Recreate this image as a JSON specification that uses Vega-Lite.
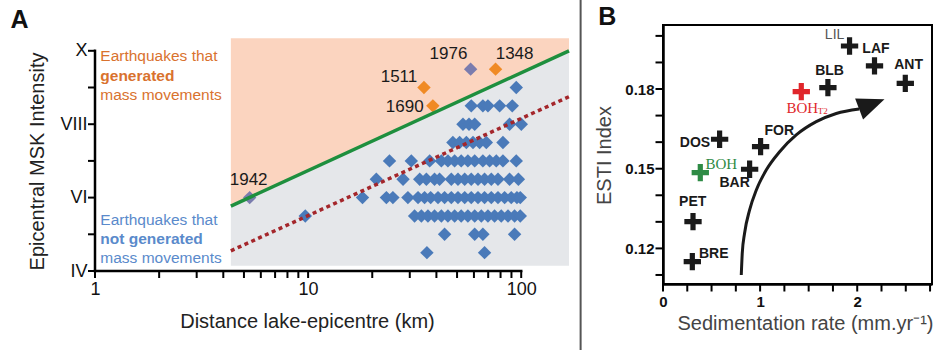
{
  "$schema": "https://vega.github.io/schema/vega-lite/v6.json",
  "autosize": {"type": "none"},
  "padding": {"left": 95, "top": 25, "right": 845, "bottom": 325},
  "background": "white",
  "bounds": "flush",
  "spacing": 94,
  "resolve": {"scale": {"color": "independent"}},
  "config": {
    "font": "Liberation Sans",
    "view": {"stroke": null},
    "axis": {"grid": false, "domain": false, "labelColor": "#111", "titleColor": "#222", "titleFontWeight": "normal", "labelOverlap": false, "labelBound": false, "labelFlush": false}
  },
  "datasets": {
    "bands": [{"d": 4.34, "top": 10.34, "g": 5.77, "bot": 4.14}, {"d": 167.6, "top": 10.34, "g": 10.0, "bot": 4.14}],
    "green": [{"d": 4.34, "g": 5.77}, {"d": 167.6, "g": 10.0}],
    "red": [{"d": 4.34, "r": 4.55}, {"d": 167.6, "r": 8.75}],
    "axesA": [{"d": 1, "d2": 100, "i": 4, "i2": 4}, {"d": 1, "d2": 1, "i": 4, "i2": 10}],
    "tAx": [{"d": 1, "i": 4}, {"d": 2, "i": 4}, {"d": 3, "i": 4}, {"d": 4, "i": 4}, {"d": 5, "i": 4}, {"d": 6, "i": 4}, {"d": 7, "i": 4}, {"d": 8, "i": 4}, {"d": 9, "i": 4}, {"d": 10, "i": 4}, {"d": 20, "i": 4}, {"d": 30, "i": 4}, {"d": 40, "i": 4}, {"d": 50, "i": 4}, {"d": 60, "i": 4}, {"d": 70, "i": 4}, {"d": 80, "i": 4}, {"d": 90, "i": 4}, {"d": 100, "i": 4}],
    "tAy": [{"d": 1, "i": 4}, {"d": 1, "i": 5}, {"d": 1, "i": 6}, {"d": 1, "i": 7}, {"d": 1, "i": 8}, {"d": 1, "i": 9}, {"d": 1, "i": 10}],
    "sep": [{"d": 190, "i": 1.8, "i2": 11.5}],
    "quakes": [
      {"d": 94.8, "i": 9.0, "t": "no"},
      {"d": 58.3, "i": 8.5, "t": "no"}, {"d": 66.1, "i": 8.5, "t": "no"}, {"d": 69.8, "i": 8.5, "t": "no"}, {"d": 79.2, "i": 8.5, "t": "no"}, {"d": 90.8, "i": 8.5, "t": "no"},
      {"d": 53.3, "i": 8.0, "t": "no"}, {"d": 56.9, "i": 8.0, "t": "no"}, {"d": 60.5, "i": 8.0, "t": "no"}, {"d": 88.2, "i": 8.0, "t": "no"}, {"d": 100.1, "i": 8.0, "t": "no"},
      {"d": 47.8, "i": 7.5, "t": "no"}, {"d": 51.4, "i": 7.5, "t": "no"}, {"d": 55.3, "i": 7.5, "t": "no"}, {"d": 59.4, "i": 7.5, "t": "no"}, {"d": 63.8, "i": 7.5, "t": "no"}, {"d": 68.6, "i": 7.5, "t": "no"}, {"d": 82.1, "i": 7.5, "t": "no"},
      {"d": 24.1, "i": 7.0, "t": "no"}, {"d": 30.5, "i": 7.0, "t": "no"}, {"d": 37.2, "i": 7.0, "t": "no"}, {"d": 42.2, "i": 7.0, "t": "no"}, {"d": 45.3, "i": 7.0, "t": "no"}, {"d": 48.7, "i": 7.0, "t": "no"}, {"d": 52.3, "i": 7.0, "t": "no"}, {"d": 56.2, "i": 7.0, "t": "no"}, {"d": 60.5, "i": 7.0, "t": "no"}, {"d": 66.1, "i": 7.0, "t": "no"}, {"d": 71.1, "i": 7.0, "t": "no"}, {"d": 76.4, "i": 7.0, "t": "no"}, {"d": 82.1, "i": 7.0, "t": "no"}, {"d": 94.8, "i": 7.0, "t": "no"},
      {"d": 20.9, "i": 6.5, "t": "no"}, {"d": 27.9, "i": 6.5, "t": "no"}, {"d": 33.4, "i": 6.5, "t": "no"}, {"d": 35.9, "i": 6.5, "t": "no"}, {"d": 39.2, "i": 6.5, "t": "no"}, {"d": 41.4, "i": 6.5, "t": "no"}, {"d": 47.0, "i": 6.5, "t": "no"}, {"d": 50.5, "i": 6.5, "t": "no"}, {"d": 54.3, "i": 6.5, "t": "no"}, {"d": 58.3, "i": 6.5, "t": "no"}, {"d": 62.7, "i": 6.5, "t": "no"}, {"d": 67.3, "i": 6.5, "t": "no"}, {"d": 72.4, "i": 6.5, "t": "no"}, {"d": 77.8, "i": 6.5, "t": "no"}, {"d": 88.2, "i": 6.5, "t": "no"}, {"d": 97.0, "i": 6.5, "t": "no"},
      {"d": 18.0, "i": 6.0, "t": "no"}, {"d": 23.3, "i": 6.0, "t": "no"}, {"d": 25.0, "i": 6.0, "t": "no"}, {"d": 29.4, "i": 6.0, "t": "no"}, {"d": 32.8, "i": 6.0, "t": "no"}, {"d": 35.2, "i": 6.0, "t": "no"}, {"d": 37.6, "i": 6.0, "t": "no"}, {"d": 40.7, "i": 6.0, "t": "no"}, {"d": 43.7, "i": 6.0, "t": "no"}, {"d": 47.0, "i": 6.0, "t": "no"}, {"d": 50.5, "i": 6.0, "t": "no"}, {"d": 54.3, "i": 6.0, "t": "no"}, {"d": 58.3, "i": 6.0, "t": "no"}, {"d": 62.7, "i": 6.0, "t": "no"}, {"d": 67.3, "i": 6.0, "t": "no"}, {"d": 72.4, "i": 6.0, "t": "no"}, {"d": 77.8, "i": 6.0, "t": "no"}, {"d": 83.6, "i": 6.0, "t": "no"}, {"d": 89.8, "i": 6.0, "t": "no"}, {"d": 95.5, "i": 6.0, "t": "no"}, {"d": 99.0, "i": 6.0, "t": "no"},
      {"d": 9.7, "i": 5.5, "t": "no"}, {"d": 31.6, "i": 5.5, "t": "no"}, {"d": 34.0, "i": 5.5, "t": "no"}, {"d": 36.5, "i": 5.5, "t": "no"}, {"d": 39.2, "i": 5.5, "t": "no"}, {"d": 42.2, "i": 5.5, "t": "no"}, {"d": 45.3, "i": 5.5, "t": "no"}, {"d": 48.7, "i": 5.5, "t": "no"}, {"d": 52.3, "i": 5.5, "t": "no"}, {"d": 56.2, "i": 5.5, "t": "no"}, {"d": 60.5, "i": 5.5, "t": "no"}, {"d": 65.0, "i": 5.5, "t": "no"}, {"d": 69.8, "i": 5.5, "t": "no"}, {"d": 75.0, "i": 5.5, "t": "no"}, {"d": 80.6, "i": 5.5, "t": "no"}, {"d": 86.7, "i": 5.5, "t": "no"}, {"d": 93.1, "i": 5.5, "t": "no"}, {"d": 99.0, "i": 5.5, "t": "no"},
      {"d": 43.7, "i": 5.0, "t": "no"}, {"d": 60.5, "i": 5.0, "t": "no"}, {"d": 66.1, "i": 5.0, "t": "no"}, {"d": 93.1, "i": 5.0, "t": "no"},
      {"d": 36.1, "i": 4.5, "t": "no"}, {"d": 67.3, "i": 4.5, "t": "no"},
      {"d": 5.32, "i": 6.0, "t": "edge"}, {"d": 57.9, "i": 9.5, "t": "edge"},
      {"d": 34.97, "i": 9.0, "t": "yes"}, {"d": 38.5, "i": 8.5, "t": "yes"}, {"d": 75.8, "i": 9.5, "t": "yes"}
    ],
    "years": [
      {"d": 5.26, "i": 6.47, "label": "1942"},
      {"d": 26.7, "i": 9.29, "label": "1511"},
      {"d": 28.4, "i": 8.46, "label": "1690"},
      {"d": 45.6, "i": 9.9, "label": "1976"},
      {"d": 93.1, "i": 9.9, "label": "1348"}
    ],
    "legGenN": [{"d": 1.059, "i": 9.87, "label": "Earthquakes that"}, {"d": 1.059, "i": 8.8, "label": "mass movements"}],
    "legGenB": [{"d": 1.059, "i": 9.32, "label": "generated"}],
    "legNotN": [{"d": 1.059, "i": 5.39, "label": "Earthquakes that"}, {"d": 1.059, "i": 4.35, "label": "mass movements"}],
    "legNotB": [{"d": 1.059, "i": 4.86, "label": "not generated"}],
    "letterA": [{"d": 0.443, "i": 10.61, "label": "A"}],
    "tBx": [{"rate": 0, "esti": 0.1066}, {"rate": 0.25, "esti": 0.1066}, {"rate": 0.5, "esti": 0.1066}, {"rate": 0.75, "esti": 0.1066}, {"rate": 1, "esti": 0.1066}, {"rate": 1.25, "esti": 0.1066}, {"rate": 1.5, "esti": 0.1066}, {"rate": 1.75, "esti": 0.1066}, {"rate": 2, "esti": 0.1066}, {"rate": 2.25, "esti": 0.1066}, {"rate": 2.5, "esti": 0.1066}, {"rate": 2.75, "esti": 0.1066}],
    "tBy": [{"rate": 0, "esti": 0.11}, {"rate": 0, "esti": 0.12}, {"rate": 0, "esti": 0.13}, {"rate": 0, "esti": 0.14}, {"rate": 0, "esti": 0.15}, {"rate": 0, "esti": 0.16}, {"rate": 0, "esti": 0.17}, {"rate": 0, "esti": 0.18}, {"rate": 0, "esti": 0.19}, {"rate": 0, "esti": 0.2}],
    "sites": [
      {"site": "LIL", "rate": 1.921, "esti": 0.1962, "grp": "other"},
      {"site": "LAF", "rate": 2.178, "esti": 0.1887, "grp": "other"},
      {"site": "ANT", "rate": 2.495, "esti": 0.1821, "grp": "other"},
      {"site": "BLB", "rate": 1.698, "esti": 0.1805, "grp": "other"},
      {"site": "BOH T2", "rate": 1.424, "esti": 0.179, "grp": "boht2"},
      {"site": "FOR", "rate": 1.005, "esti": 0.1583, "grp": "other"},
      {"site": "DOS", "rate": 0.583, "esti": 0.1611, "grp": "other"},
      {"site": "BOH", "rate": 0.384, "esti": 0.1485, "grp": "boh"},
      {"site": "BAR", "rate": 0.892, "esti": 0.1498, "grp": "other"},
      {"site": "PET", "rate": 0.309, "esti": 0.1301, "grp": "other"},
      {"site": "BRE", "rate": 0.302, "esti": 0.115, "grp": "other"}
    ],
    "siteLabels": [
      {"rate": 2.193, "esti": 0.195, "label": "LAF"},
      {"rate": 2.529, "esti": 0.1892, "label": "ANT"},
      {"rate": 1.715, "esti": 0.1867, "label": "BLB"},
      {"rate": 1.198, "esti": 0.1642, "label": "FOR"},
      {"rate": 0.329, "esti": 0.1597, "label": "DOS"},
      {"rate": 0.738, "esti": 0.1448, "label": "BAR"},
      {"rate": 0.306, "esti": 0.1373, "label": "PET"},
      {"rate": 0.522, "esti": 0.1179, "label": "BRE"}
    ],
    "lil": [{"rate": 1.767, "esti": 0.2003, "label": "LIL"}],
    "bohG": [{"rate": 0.601, "esti": 0.1518, "label": "BOH"}],
    "bohR": [{"rate": 1.434, "esti": 0.1729, "label": "BOH"}],
    "t2": [{"rate": 1.646, "esti": 0.1718, "label": "T2"}],
    "arrow": [
      {"rate": 0.806, "esti": 0.11},
      {"rate": 0.816, "esti": 0.1181},
      {"rate": 0.84, "esti": 0.1257},
      {"rate": 0.892, "esti": 0.1345},
      {"rate": 0.961, "esti": 0.142},
      {"rate": 1.063, "esti": 0.1495},
      {"rate": 1.201, "esti": 0.1564},
      {"rate": 1.372, "esti": 0.1627},
      {"rate": 1.578, "esti": 0.1677},
      {"rate": 1.784, "esti": 0.1708},
      {"rate": 2.02, "esti": 0.1725}
    ],
    "head": [{"rate": 2.15, "esti": 0.1743}],
    "letterB": [{"rate": -0.574, "esti": 0.2041, "label": "B"}]
  },
  "hconcat": [
    {
      "width": 474,
      "height": 246,
      "layer": [
        {
          "data": {"name": "bands"},
          "mark": {"type": "area", "color": "#FBD4BF", "opacity": 1},
          "encoding": {
            "x": {"field": "d", "type": "quantitative", "scale": {"type": "log", "domain": [1, 167.6], "nice": false},
              "axis": {"title": "Distance lake-epicentre (km)", "values": [1, 10, 100], "format": "d",
                "labelOverlap": false, "ticks": false, "tickSize": 0,
                "labelFontSize": 18, "labelPadding": 9,
                "titleFontSize": 20, "titleX": 212, "titleY": 56, "titleBaseline": "alphabetic"}},
            "y": {"field": "top", "type": "quantitative", "scale": {"domain": [4, 10.703], "nice": false, "zero": false},
              "axis": {"title": "Epicentral MSK Intensity", "values": [4, 6, 8, 10],
                "labelExpr": "datum.value == 10 ? 'X' : datum.value == 8 ? 'VIII' : datum.value == 6 ? 'VI' : 'IV'",
                "labelOverlap": false, "ticks": false, "tickSize": 0,
                "labelFontSize": 18, "labelPadding": 8,
                "titleFontSize": 20, "titleX": -52, "titleY": 136, "titleBaseline": "alphabetic"}},
            "y2": {"field": "g"}
          }
        },
        {
          "data": {"name": "bands"},
          "mark": {"type": "area", "color": "#E5E7EA", "opacity": 1},
          "encoding": {
            "x": {"field": "d", "type": "quantitative"},
            "y": {"field": "g", "type": "quantitative"},
            "y2": {"field": "bot"}
          }
        },
        {
          "data": {"name": "quakes"},
          "mark": {"type": "point", "shape": "diamond", "filled": true, "size": 180, "opacity": 1},
          "encoding": {
            "x": {"field": "d", "type": "quantitative"},
            "y": {"field": "i", "type": "quantitative"},
            "color": {"field": "t", "type": "nominal", "scale": {"domain": ["no", "edge", "yes"], "range": ["#4A7AB9", "#7A7CAE", "#F08A24"]}, "legend": null}
          }
        },
        {
          "data": {"name": "green"},
          "mark": {"type": "line", "color": "#1E8F3E", "strokeWidth": 3.5},
          "encoding": {
            "x": {"field": "d", "type": "quantitative"},
            "y": {"field": "g", "type": "quantitative"}
          }
        },
        {
          "data": {"name": "red"},
          "mark": {"type": "line", "color": "#A4262B", "strokeWidth": 3.5, "strokeDash": [4, 3.5]},
          "encoding": {
            "x": {"field": "d", "type": "quantitative"},
            "y": {"field": "r", "type": "quantitative"}
          }
        },
        {
          "data": {"name": "axesA"},
          "mark": {"type": "rule", "color": "black", "strokeWidth": 2.5, "strokeCap": "square"},
          "encoding": {
            "x": {"field": "d", "type": "quantitative"},
            "x2": {"field": "d2"},
            "y": {"field": "i", "type": "quantitative"},
            "y2": {"field": "i2"}
          }
        },
        {
          "data": {"name": "tAx"},
          "mark": {"type": "tick", "orient": "vertical", "size": 7, "thickness": 2, "color": "black", "opacity": 1, "yOffset": 3.5},
          "encoding": {
            "x": {"field": "d", "type": "quantitative"},
            "y": {"field": "i", "type": "quantitative"}
          }
        },
        {
          "data": {"name": "tAy"},
          "mark": {"type": "tick", "orient": "horizontal", "size": 7, "thickness": 2, "color": "black", "opacity": 1, "xOffset": -3.5},
          "encoding": {
            "x": {"field": "d", "type": "quantitative"},
            "y": {"field": "i", "type": "quantitative"}
          }
        },
        {
          "data": {"name": "sep"},
          "mark": {"type": "rule", "color": "#555", "strokeWidth": 2},
          "encoding": {
            "x": {"field": "d", "type": "quantitative"},
            "y": {"field": "i", "type": "quantitative"},
            "y2": {"field": "i2"}
          }
        },
        {
          "data": {"name": "years"},
          "mark": {"type": "text", "fontSize": 17, "color": "#1a1a1a", "align": "center", "baseline": "middle", "font": "Liberation Sans"},
          "encoding": {
            "x": {"field": "d", "type": "quantitative"},
            "y": {"field": "i", "type": "quantitative"},
            "text": {"field": "label"}
          }
        },
        {
          "data": {"name": "legGenN"},
          "mark": {"type": "text", "fontSize": 15.5, "color": "#D9722E", "align": "left", "baseline": "middle", "font": "Liberation Sans"},
          "encoding": {
            "x": {"field": "d", "type": "quantitative"},
            "y": {"field": "i", "type": "quantitative"},
            "text": {"field": "label"}
          }
        },
        {
          "data": {"name": "legGenB"},
          "mark": {"type": "text", "fontSize": 15.5, "fontWeight": "bold", "color": "#D9722E", "align": "left", "baseline": "middle", "font": "Liberation Sans"},
          "encoding": {
            "x": {"field": "d", "type": "quantitative"},
            "y": {"field": "i", "type": "quantitative"},
            "text": {"field": "label"}
          }
        },
        {
          "data": {"name": "legNotN"},
          "mark": {"type": "text", "fontSize": 15.5, "color": "#5A8ACB", "align": "left", "baseline": "middle", "font": "Liberation Sans"},
          "encoding": {
            "x": {"field": "d", "type": "quantitative"},
            "y": {"field": "i", "type": "quantitative"},
            "text": {"field": "label"}
          }
        },
        {
          "data": {"name": "legNotB"},
          "mark": {"type": "text", "fontSize": 15.5, "fontWeight": "bold", "color": "#5A8ACB", "align": "left", "baseline": "middle", "font": "Liberation Sans"},
          "encoding": {
            "x": {"field": "d", "type": "quantitative"},
            "y": {"field": "i", "type": "quantitative"},
            "text": {"field": "label"}
          }
        },
        {
          "data": {"name": "letterA"},
          "mark": {"type": "text", "fontSize": 25, "fontWeight": "bold", "color": "#111", "align": "center", "baseline": "alphabetic", "font": "Liberation Sans"},
          "encoding": {
            "x": {"field": "d", "type": "quantitative"},
            "y": {"field": "i", "type": "quantitative"},
            "text": {"field": "label"}
          }
        }
      ]
    },
    {
      "width": 269,
      "height": 259,
      "view": {"stroke": "black", "strokeWidth": 2},
      "layer": [
        {
          "data": {"name": "arrow"},
          "mark": {"type": "line", "color": "#1a1a1a", "strokeWidth": 3, "interpolate": "monotone"},
          "encoding": {
            "x": {"field": "rate", "type": "quantitative", "scale": {"domain": [0, 2.77], "nice": false, "zero": false},
              "axis": {"title": "Sedimentation rate (mm.yr⁻¹)", "values": [0, 1, 2], "format": "d",
                "labelOverlap": false, "ticks": false, "tickSize": 0,
                "domain": true, "domainColor": "black", "domainWidth": 2.5,
                "labelFont": "Liberation Sans Narrow, Liberation Sans, sans-serif", "labelFontWeight": "bold", "labelFontSize": 15, "labelPadding": 10,
                "titleFontSize": 20, "titleColor": "#444", "titleX": 142, "titleY": 45, "titleBaseline": "alphabetic"}},
            "y": {"field": "esti", "type": "quantitative", "scale": {"domain": [0.1066, 0.2041], "nice": false, "zero": false},
              "axis": {"title": "ESTI Index", "values": [0.12, 0.15, 0.18], "format": ".2f",
                "labelOverlap": false, "ticks": false, "tickSize": 0,
                "domain": true, "domainColor": "black", "domainWidth": 2.5,
                "labelFont": "Liberation Sans Narrow, Liberation Sans, sans-serif", "labelFontWeight": "bold", "labelFontSize": 15, "labelPadding": 9,
                "titleFontSize": 20, "titleColor": "#444", "titleX": -53, "titleY": 130, "titleBaseline": "alphabetic"}}
          }
        },
        {
          "data": {"name": "tBx"},
          "mark": {"type": "tick", "orient": "vertical", "size": 7, "thickness": 2, "color": "black", "opacity": 1, "yOffset": 4},
          "encoding": {
            "x": {"field": "rate", "type": "quantitative"},
            "y": {"field": "esti", "type": "quantitative"}
          }
        },
        {
          "data": {"name": "tBy"},
          "mark": {"type": "tick", "orient": "horizontal", "size": 7, "thickness": 2, "color": "black", "opacity": 1, "xOffset": -4},
          "encoding": {
            "x": {"field": "rate", "type": "quantitative"},
            "y": {"field": "esti", "type": "quantitative"}
          }
        },
        {
          "data": {"name": "head"},
          "mark": {"type": "point", "shape": "M-1,-0.82L1,0L-1,0.82Z", "filled": true, "size": 740, "angle": -21, "color": "#1a1a1a", "opacity": 1},
          "encoding": {
            "x": {"field": "rate", "type": "quantitative"},
            "y": {"field": "esti", "type": "quantitative"}
          }
        },
        {
          "data": {"name": "sites"},
          "mark": {"type": "point", "shape": "M-0.3,-1L0.3,-1L0.3,-0.3L1,-0.3L1,0.3L0.3,0.3L0.3,1L-0.3,1L-0.3,0.3L-1,0.3L-1,-0.3L-0.3,-0.3Z", "filled": true, "size": 300, "opacity": 1, "strokeWidth": 0},
          "encoding": {
            "x": {"field": "rate", "type": "quantitative"},
            "y": {"field": "esti", "type": "quantitative"},
            "color": {"field": "grp", "type": "nominal", "scale": {"domain": ["other", "boh", "boht2"], "range": ["#1a1a1a", "#2E8B45", "#E0262B"]}, "legend": null}
          }
        },
        {
          "data": {"name": "siteLabels"},
          "mark": {"type": "text", "font": "Liberation Sans Narrow, Liberation Sans, sans-serif", "fontWeight": "bold", "fontSize": 14, "color": "#1a1a1a", "align": "center", "baseline": "middle"},
          "encoding": {
            "x": {"field": "rate", "type": "quantitative"},
            "y": {"field": "esti", "type": "quantitative"},
            "text": {"field": "label"}
          }
        },
        {
          "data": {"name": "lil"},
          "mark": {"type": "text", "font": "Liberation Sans", "fontSize": 14, "color": "#555", "align": "center", "baseline": "middle"},
          "encoding": {
            "x": {"field": "rate", "type": "quantitative"},
            "y": {"field": "esti", "type": "quantitative"},
            "text": {"field": "label"}
          }
        },
        {
          "data": {"name": "bohG"},
          "mark": {"type": "text", "font": "Liberation Serif", "fontSize": 15, "color": "#2E8B45", "align": "center", "baseline": "middle"},
          "encoding": {
            "x": {"field": "rate", "type": "quantitative"},
            "y": {"field": "esti", "type": "quantitative"},
            "text": {"field": "label"}
          }
        },
        {
          "data": {"name": "bohR"},
          "mark": {"type": "text", "font": "Liberation Serif", "fontSize": 15, "color": "#E0262B", "align": "center", "baseline": "middle"},
          "encoding": {
            "x": {"field": "rate", "type": "quantitative"},
            "y": {"field": "esti", "type": "quantitative"},
            "text": {"field": "label"}
          }
        },
        {
          "data": {"name": "t2"},
          "mark": {"type": "text", "font": "Liberation Serif", "fontSize": 9, "color": "#E0262B", "align": "center", "baseline": "middle"},
          "encoding": {
            "x": {"field": "rate", "type": "quantitative"},
            "y": {"field": "esti", "type": "quantitative"},
            "text": {"field": "label"}
          }
        },
        {
          "data": {"name": "letterB"},
          "mark": {"type": "text", "fontSize": 25, "fontWeight": "bold", "color": "#111", "align": "center", "baseline": "alphabetic", "font": "Liberation Sans"},
          "encoding": {
            "x": {"field": "rate", "type": "quantitative"},
            "y": {"field": "esti", "type": "quantitative"},
            "text": {"field": "label"}
          }
        }
      ]
    }
  ]
}
